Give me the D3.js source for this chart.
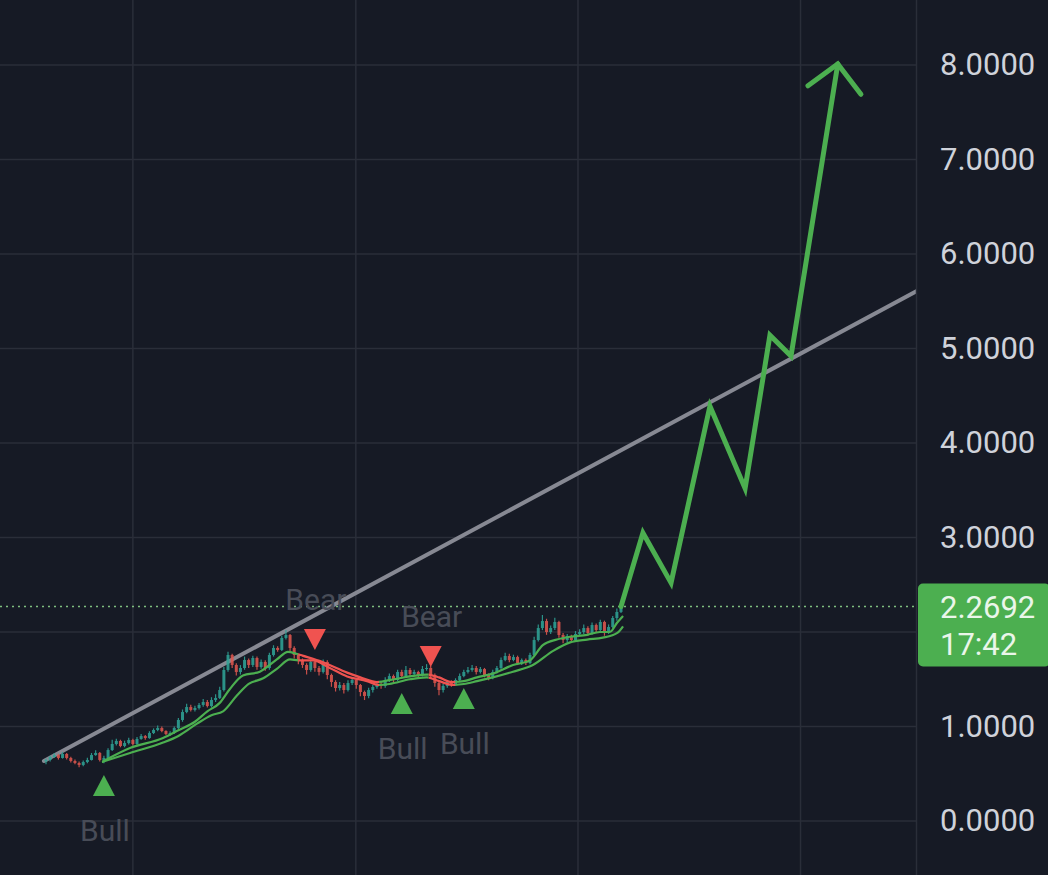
<!DOCTYPE html>
<html><head><meta charset="utf-8">
<script src="https://cdn.jsdelivr.net/npm/d3@7"></script>
<style>html,body{margin:0;padding:0;background:#161a25;overflow:hidden}svg{display:block}</style>
</head><body><svg id="c" width="1048" height="875"></svg>
<script>
// ---------- data ----------
const opens=[0.630,0.646,0.677,0.698,0.667,0.709,0.667,0.635,0.614,0.593,
0.624,0.646,0.698,0.720,0.646,0.667,0.751,0.815,0.847,0.794,
0.825,0.857,0.815,0.868,0.899,0.878,0.931,0.963,0.984,0.952,
0.921,0.931,0.984,1.069,1.153,1.206,1.175,1.196,1.228,1.259,
1.217,1.280,1.302,1.386,1.598,1.757,1.651,1.577,1.619,1.704,
1.651,1.725,1.630,1.683,1.619,1.757,1.831,1.810,1.937,1.968,
1.831,1.757,1.704,1.651,1.598,1.683,1.619,1.577,1.683,1.545,
1.471,1.407,1.439,1.386,1.460,1.492,1.439,1.365,1.323,1.386,
1.418,1.450,1.429,1.492,1.534,1.492,1.577,1.534,1.598,1.556,
1.577,1.545,1.608,1.619,1.545,1.460,1.386,1.429,1.471,1.450,
1.492,1.534,1.577,1.598,1.619,1.577,1.608,1.545,1.513,1.577,
1.619,1.704,1.746,1.704,1.735,1.672,1.704,1.672,1.757,1.915,
2.042,2.116,2.000,2.042,2.106,1.968,1.915,1.958,1.915,1.979,
2.000,2.042,1.989,2.074,2.021,2.106,2.000,2.053,2.148,2.212];
const closes=[0.646,0.677,0.698,0.667,0.709,0.667,0.635,0.614,0.593,0.624,
0.646,0.698,0.720,0.646,0.667,0.751,0.815,0.847,0.794,0.825,
0.857,0.815,0.868,0.899,0.878,0.931,0.963,0.984,0.952,0.921,
0.931,0.984,1.069,1.153,1.206,1.175,1.196,1.228,1.259,1.217,
1.280,1.302,1.386,1.598,1.757,1.651,1.577,1.619,1.704,1.651,
1.725,1.630,1.683,1.619,1.757,1.831,1.810,1.937,1.968,1.831,
1.757,1.704,1.651,1.598,1.683,1.619,1.577,1.683,1.545,1.471,
1.407,1.439,1.386,1.460,1.492,1.439,1.365,1.323,1.386,1.418,
1.450,1.429,1.492,1.534,1.492,1.577,1.534,1.598,1.556,1.577,
1.545,1.608,1.619,1.545,1.460,1.386,1.429,1.471,1.450,1.492,
1.534,1.577,1.598,1.619,1.577,1.608,1.545,1.513,1.577,1.619,
1.704,1.746,1.704,1.735,1.672,1.704,1.672,1.757,1.915,2.042,
2.116,2.000,2.042,2.106,1.968,1.915,1.958,1.915,1.979,2.000,
2.042,1.989,2.074,2.021,2.106,2.000,2.053,2.148,2.212,2.2692];
const highs=[0.66,0.69,0.72,0.71,0.73,0.72,0.68,0.65,0.63,0.64,
0.67,0.72,0.75,0.73,0.69,0.77,0.86,0.87,0.86,0.85,
0.88,0.87,0.89,0.92,0.91,0.95,0.98,1.01,1.00,0.96,
0.95,1.00,1.09,1.18,1.24,1.23,1.22,1.25,1.29,1.28,
1.31,1.34,1.42,1.63,1.79,1.77,1.67,1.65,1.74,1.72,
1.75,1.74,1.71,1.70,1.78,1.86,1.85,1.96,2.02,1.98,
1.85,1.77,1.72,1.67,1.71,1.70,1.64,1.71,1.70,1.56,
1.49,1.47,1.46,1.49,1.52,1.51,1.45,1.38,1.41,1.44,
1.48,1.47,1.52,1.56,1.55,1.60,1.60,1.64,1.62,1.60,
1.59,1.64,1.66,1.64,1.56,1.47,1.45,1.49,1.49,1.51,
1.56,1.60,1.63,1.65,1.64,1.63,1.62,1.56,1.60,1.64,
1.73,1.78,1.77,1.76,1.75,1.72,1.72,1.78,1.95,2.08,
2.18,2.14,2.07,2.15,2.12,1.99,1.98,1.97,2.01,2.03,
2.08,2.06,2.10,2.09,2.13,2.12,2.08,2.17,2.25,2.32];
const lows=[0.60,0.63,0.67,0.65,0.66,0.65,0.62,0.60,0.57,0.58,
0.61,0.64,0.69,0.63,0.61,0.66,0.74,0.80,0.78,0.78,
0.81,0.80,0.80,0.86,0.86,0.87,0.92,0.95,0.94,0.91,
0.90,0.92,0.97,1.05,1.14,1.16,1.16,1.18,1.21,1.20,
1.20,1.26,1.29,1.37,1.58,1.62,1.54,1.55,1.60,1.62,
1.63,1.60,1.61,1.59,1.60,1.74,1.79,1.80,1.92,1.80,
1.72,1.66,1.62,1.55,1.58,1.58,1.54,1.56,1.50,1.42,
1.37,1.38,1.35,1.37,1.44,1.40,1.32,1.28,1.30,1.36,
1.40,1.40,1.41,1.47,1.46,1.48,1.51,1.52,1.53,1.54,
1.52,1.53,1.59,1.52,1.42,1.33,1.36,1.41,1.42,1.43,
1.47,1.52,1.56,1.58,1.55,1.56,1.52,1.49,1.50,1.56,
1.60,1.69,1.68,1.69,1.65,1.65,1.65,1.66,1.74,1.90,
2.02,1.97,1.98,2.02,1.94,1.88,1.89,1.89,1.90,1.96,
1.98,1.96,1.97,2.00,2.00,1.96,1.98,2.04,2.12,2.20];

const priceTicks=[0,1,2,3,4,5,6,7,8];
const timeGrid=[21,74.9,128.6,182.4];           // bar index of vertical grid lines
const trendLine=[[-0.5,0.635],[210.5,5.608]];    // [bar index, price]
const projection=[[139,2.2692],[144.3,3.05],[151.1,2.52],[160.5,4.39],[169,3.52],[175,5.14],[180.1,4.92],[191.4,8.01]];
const arrowHead=[[184.2,7.78],[191.4,8.01],[197,7.69]];
const maFast=[[13.5,0.624],[20.3,0.772],[28.3,0.878],[32,0.96],[36,1.05],[39,1.16],[42,1.25],[44.5,1.40],[47.6,1.54],[51.7,1.58],[55.8,1.71],[58.5,1.79],[60.5,1.77],[62,1.75],[67,1.68],[72.8,1.57],[76.6,1.51],[80,1.47],[83,1.49],[88,1.53],[92,1.55],[95,1.52],[98,1.47],[101,1.48],[104.2,1.52],[108,1.56],[112.9,1.65],[117,1.70],[120.1,1.86],[123.5,1.92],[126.7,1.95],[130.8,1.97],[133.9,2.00],[136.3,2.00],[138.1,2.10],[139.5,2.17]];
const maSlow=[[13.5,0.624],[20.3,0.72],[28.3,0.83],[32,0.90],[36.5,1.03],[40,1.12],[42.8,1.16],[46.2,1.33],[49,1.45],[52.5,1.51],[55.8,1.61],[59,1.71],[61,1.70],[64.5,1.70],[68.6,1.62],[72.8,1.53],[77.6,1.48],[80.3,1.44],[83,1.45],[88,1.50],[92,1.52],[95,1.48],[98.4,1.44],[101,1.45],[104.2,1.48],[108,1.52],[112.9,1.58],[117.7,1.65],[122.6,1.80],[126.7,1.89],[130.8,1.92],[134.6,1.94],[138.1,1.99],[139.5,2.06]];
const regimeFrom=[13.5,61,80.5,92.5,99];
const regimeTo=[61,80.5,92.5,99,140];
const regimeType=['bull','bear','bull','bear','bull'];
const signalIndex=[14,65,86,93,101];
const signalType=['bull','bear','bull','bear','bull'];
const signalPrice=[0.487,1.81,1.354,1.63,1.407];
const signalText=['Bull','Bear','Bull','Bear','Bull'];
const lastPrice=2.2692;
const countdown='17:42';

// ---------- drawing ----------
const W=1048,H=875,paneW=916;
const FONT='Roboto, "Noto Sans", sans-serif';
const svg=d3.select('#c');
svg.append('rect').attr('width',W).attr('height',H).attr('fill','#161a25');
const x=d3.scaleLinear().domain([0,139]).range([46,621]);
const y=d3.scaleLinear().domain([0,8]).range([821,65]);
const defs=svg.append('defs');
defs.append('clipPath').attr('id','pane').append('rect').attr('x',0).attr('y',0).attr('width',paneW).attr('height',H);
regimeFrom.forEach((f,k)=>{
  defs.append('clipPath').attr('id','reg'+k).append('rect')
    .attr('x',x(f)).attr('y',0).attr('width',x(regimeTo[k])-x(f)).attr('height',H);
});
const pane=svg.append('g').attr('clip-path','url(#pane)');
// grid
pane.selectAll('.hg').data(priceTicks).join('line')
  .attr('x1',0).attr('x2',paneW).attr('y1',d=>y(d)).attr('y2',d=>y(d))
  .attr('stroke','#2a2e39').attr('stroke-width',1.5);
pane.selectAll('.vg').data(timeGrid).join('line')
  .attr('x1',d=>x(d)).attr('x2',d=>x(d)).attr('y1',0).attr('y2',H)
  .attr('stroke','#2a2e39').attr('stroke-width',1.5);
// last price dotted line
pane.append('line').attr('x1',0).attr('x2',paneW).attr('y1',y(lastPrice)).attr('y2',y(lastPrice))
  .attr('stroke','#7fbf7f').attr('stroke-width',1.6).attr('stroke-dasharray','2,4');
// trend line
const ln=d3.line().x(d=>x(d[0])).y(d=>y(d[1]));
pane.append('path').attr('d',ln(trendLine)).attr('fill','none')
  .attr('stroke','#878993').attr('stroke-width',4).attr('stroke-linecap','round');
// candles
const bars=d3.range(closes.length);
const up='#2fa396',dn='#e0574f';
const cg=pane.append('g').attr('opacity',0.88);
cg.selectAll('.wk').data(bars).join('line')
  .attr('x1',i=>x(i)).attr('x2',i=>x(i)).attr('y1',i=>y(highs[i])).attr('y2',i=>y(lows[i]))
  .attr('stroke',i=>closes[i]>=opens[i]?up:dn).attr('stroke-width',1.2);
cg.selectAll('.bd').data(bars).join('rect')
  .attr('x',i=>x(i)-1.5).attr('width',3)
  .attr('y',i=>y(Math.max(opens[i],closes[i])))
  .attr('height',i=>Math.max(1,Math.abs(y(opens[i])-y(closes[i]))))
  .attr('fill',i=>closes[i]>=opens[i]?up:dn);
// moving average lines coloured by regime
const maLine=d3.line().x(d=>x(d[0])).y(d=>y(d[1])).curve(d3.curveMonotoneX);
regimeFrom.forEach((f,k)=>{
  const col=regimeType[k]==='bull'?'#4caf50':'#ef5350';
  const g=pane.append('g').attr('clip-path','url(#reg'+k+')');
  [maFast,maSlow].forEach(s=>{
    g.append('path').attr('d',maLine(s)).attr('fill','none').attr('stroke',col).attr('stroke-width',2.2);
  });
});
// projection
pane.append('path').attr('d',ln(projection)).attr('fill','none').attr('stroke','#4caf50')
  .attr('stroke-width',5).attr('stroke-linejoin','miter').attr('stroke-linecap','round');
pane.append('path').attr('d',ln(arrowHead)).attr('fill','none').attr('stroke','#4caf50')
  .attr('stroke-width',5).attr('stroke-linejoin','miter').attr('stroke-linecap','round');
// signals
signalIndex.forEach((i,k)=>{
  const cx=x(i), ty=y(signalPrice[k]);
  const bull=signalType[k]==='bull';
  const pts=bull?[[cx,ty],[cx-11,ty+21],[cx+11,ty+21]]:[[cx,ty],[cx-11,ty-21],[cx+11,ty-21]];
  pane.append('path').attr('d','M'+pts.map(p=>p.join(',')).join('L')+'Z')
    .attr('fill',bull?'#4caf50':'#f05350');
  pane.append('text').attr('x',cx+1).attr('y',bull?ty+66:ty-40)
    .attr('text-anchor','middle').attr('font-family',FONT).attr('font-size',30)
    .attr('fill','#484c57').text(signalText[k]);
});
// price axis (labels hidden where the last-price badge covers them)
svg.append('line').attr('x1',paneW+0.5).attr('x2',paneW+0.5).attr('y1',0).attr('y2',H)
  .attr('stroke','#2a2e39').attr('stroke-width',1.5);
const by=y(lastPrice);
const badgeTop=by-23, badgeBottom=by+60;
const visibleTicks=priceTicks.filter(v=>y(v)+16<badgeTop||y(v)-16>badgeBottom);
const ax=svg.append('g').attr('transform','translate('+paneW+',0)')
  .call(d3.axisRight(y).tickValues(visibleTicks).tickFormat(d3.format('.4f')).tickSize(0).tickPadding(24));
ax.select('.domain').remove();
ax.selectAll('text').attr('font-family',FONT).attr('font-size',31).attr('fill','#cfd2da');
// last price badge
svg.append('rect').attr('x',paneW+2).attr('y',badgeTop).attr('width',W-paneW).attr('height',badgeBottom-badgeTop)
  .attr('rx',5).attr('fill','#4caf50');
svg.append('text').attr('x',paneW+24).attr('y',by+11).attr('font-family',FONT).attr('font-size',31)
  .attr('fill','#eaf6ea').text(d3.format('.4f')(lastPrice));
svg.append('text').attr('x',paneW+24).attr('y',by+48).attr('font-family',FONT).attr('font-size',31)
  .attr('fill','#eaf6ea').text(countdown);
</script></body></html>
